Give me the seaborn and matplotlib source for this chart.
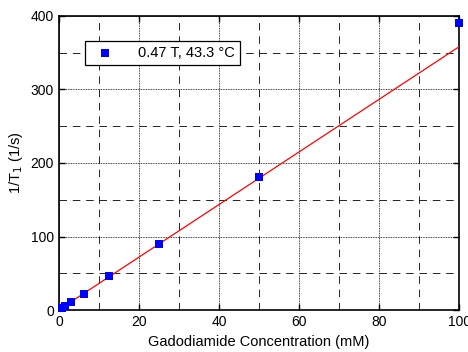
import seaborn as sns
import matplotlib.pyplot as plt
import numpy as np
import pandas as pd
from matplotlib.ticker import MultipleLocator

# data
conc_mM = [0.78, 1.56, 3.125, 6.25, 12.5, 25, 50, 100]
rate_1_s = [3, 5.5, 11.5, 22.5, 46, 90, 181, 390]
fit_x = [0, 100]
fit_y = [0.5, 358]
series_label = "0.47 T, 43.3 °C"

sns.set_style("ticks")
plt.rcParams['font.family'] = ['Liberation Sans', 'DejaVu Sans']
plt.rcParams['text.color'] = 'black'
plt.rcParams['axes.labelcolor'] = 'black'
plt.rcParams['xtick.color'] = 'black'
plt.rcParams['ytick.color'] = 'black'

df = pd.DataFrame({"conc": conc_mM, "rate": rate_1_s})
df_fit = pd.DataFrame({"conc": fit_x, "rate": fit_y})

fig = plt.figure(figsize=(4.68, 3.52), dpi=100)
ax = fig.add_axes([0.126, 0.119, 0.855, 0.836])

# grid: dotted majors, dashed minors
ax.xaxis.set_major_locator(MultipleLocator(20))
ax.xaxis.set_minor_locator(MultipleLocator(10))
ax.yaxis.set_major_locator(MultipleLocator(100))
ax.yaxis.set_minor_locator(MultipleLocator(50))
ax.grid(which="major", color="black", linestyle=(0, (1, 1)), linewidth=0.6)
ax.grid(which="minor", color="black", linestyle=(0, (9, 7)), linewidth=0.6)
ax.set_axisbelow(True)

sns.lineplot(data=df_fit, x="conc", y="rate", ax=ax, color="red", linewidth=0.9, zorder=3)
sns.scatterplot(data=df, x="conc", y="rate", ax=ax, marker="s", color="blue",
                s=26, edgecolor="blue", linewidth=0, label=series_label, zorder=4,
                clip_on=False)

ax.set_xlim(0, 100)
ax.set_ylim(0, 400)
ax.set_xlabel("Gadodiamide Concentration (mM)", fontsize=10.5)
ax.set_ylabel("1/T$_1$ (1/s)", fontsize=10.5)
ax.tick_params(which="both", direction="in", top=True, right=True, labelsize=10)
ax.tick_params(which="major", length=4, width=1)
ax.tick_params(which="minor", length=0)
for sp in ax.spines.values():
    sp.set_linewidth(1.2)
    sp.set_color("black")
    sp.set_visible(True)

leg = ax.legend(loc="upper left", bbox_to_anchor=(0.065, 0.915), frameon=True,
                fancybox=False, edgecolor="black", framealpha=1, fontsize=10.5,
                handletextpad=1.3, borderpad=0.35, borderaxespad=0)
leg.get_frame().set_linewidth(0.9)

fig.savefig("out.png", dpi=100)
